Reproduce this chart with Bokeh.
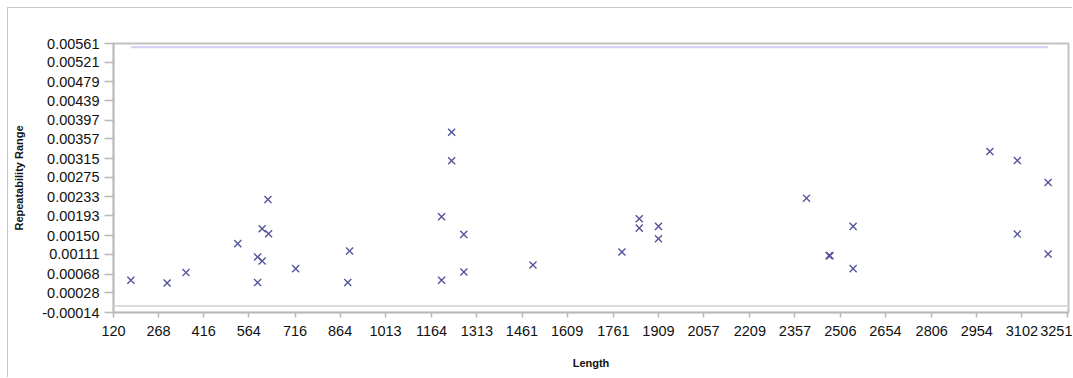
from bokeh.plotting import figure
from bokeh.models import FixedTicker, Span, ColumnDataSource
from bokeh.embed import file_html
from bokeh.resources import INLINE

# Data
lengths = [177, 296, 358, 528, 593, 608, 593, 608, 629, 627, 718, 895, 889,
           1230, 1230, 1197, 1270, 1197, 1270, 1497, 1789, 1846, 1846, 1909,
           1909, 2395, 2548, 2469, 2472, 2548, 2997, 3087, 3188, 3087, 3188]
ranges = [0.000549, 0.000491, 0.000713, 0.001332, 0.001046, 0.000960, 0.000500,
          0.001652, 0.001545, 0.002276, 0.000798, 0.001174, 0.000500,
          0.003712, 0.003102, 0.001907, 0.001530, 0.000549, 0.000726, 0.000875,
          0.001152, 0.001865, 0.001664, 0.001701, 0.001438, 0.002304, 0.001701,
          0.001076, 0.001072, 0.000798, 0.003300, 0.003108, 0.002639, 0.001536,
          0.001110]
upper_limit = 0.00553

x_ticks = [120, 268, 416, 564, 716, 864, 1013, 1164, 1313, 1461, 1609, 1761,
           1909, 2057, 2209, 2357, 2506, 2654, 2806, 2954, 3102, 3251]
y_ticks = [-0.00014, 0.00028, 0.00068, 0.00111, 0.00150, 0.00193, 0.00233,
           0.00275, 0.00315, 0.00357, 0.00397, 0.00439, 0.00479, 0.00521,
           0.00561]

FONT = "Liberation Sans"

p = figure(width=1065, height=370, output_backend="svg", toolbar_location=None,
           x_range=(120, 3255), y_range=(-0.00014, 0.00561),
           min_border_left=105, min_border_right=5, min_border_top=35,
           min_border_bottom=66)
# outer chart border (light gray, left and top visible)
p.styles = {"margin-left": "7px", "margin-top": "7px",
            "border-left": "1px solid #c8c8c8", "border-top": "1px solid #c8c8c8"}

p.grid.visible = False
p.outline_line_color = "#c2c2c2"
p.outline_line_width = 2
p.background_fill_color = "white"
p.border_fill_color = "white"

# zero line
p.add_layout(Span(location=0, dimension="width", line_color="#dadada", line_width=2))

# upper limit line spanning the data
p.line(x=[min(lengths), max(lengths)], y=[upper_limit, upper_limit],
       line_color="#cfcff7", line_width=2)

src = ColumnDataSource(dict(x=lengths, y=ranges))
p.scatter("x", "y", source=src, marker="x", size=10, line_width=1.4,
          line_color="#55559c")

# axes
p.xaxis.ticker = FixedTicker(ticks=x_ticks)
p.yaxis.ticker = FixedTicker(ticks=y_ticks)
p.xaxis.major_label_overrides = {t: str(t) for t in x_ticks}
p.yaxis.major_label_overrides = {t: f"{t:.5f}" for t in y_ticks}
p.xaxis.minor_tick_line_color = None
p.yaxis.minor_tick_line_color = None

for ax in (p.xaxis[0], p.yaxis[0]):
    ax.axis_line_color = "#b8b8b8"
    ax.axis_line_width = 1.5
    ax.major_tick_line_color = "#b8b8b8"
    ax.major_tick_line_width = 1.5
    ax.major_tick_in = 0
    ax.major_label_text_font = FONT
    ax.major_label_text_font_size = "14.5px"
    ax.major_label_text_color = "#111111"
    ax.axis_label_text_font = FONT
    ax.axis_label_text_font_size = "11px"
    ax.axis_label_text_font_style = "bold"
    ax.axis_label_text_color = "#111111"

p.xaxis.major_tick_out = 5
p.xaxis.major_label_standoff = 8
p.xaxis.axis_label = "Length"
p.xaxis.axis_label_standoff = 18

p.yaxis.major_tick_out = 9
p.yaxis.major_label_standoff = 5
p.yaxis.axis_label = "Repeatability Range"
p.yaxis.axis_label_standoff = 14

open("out.html", "w").write(file_html(p, INLINE))
